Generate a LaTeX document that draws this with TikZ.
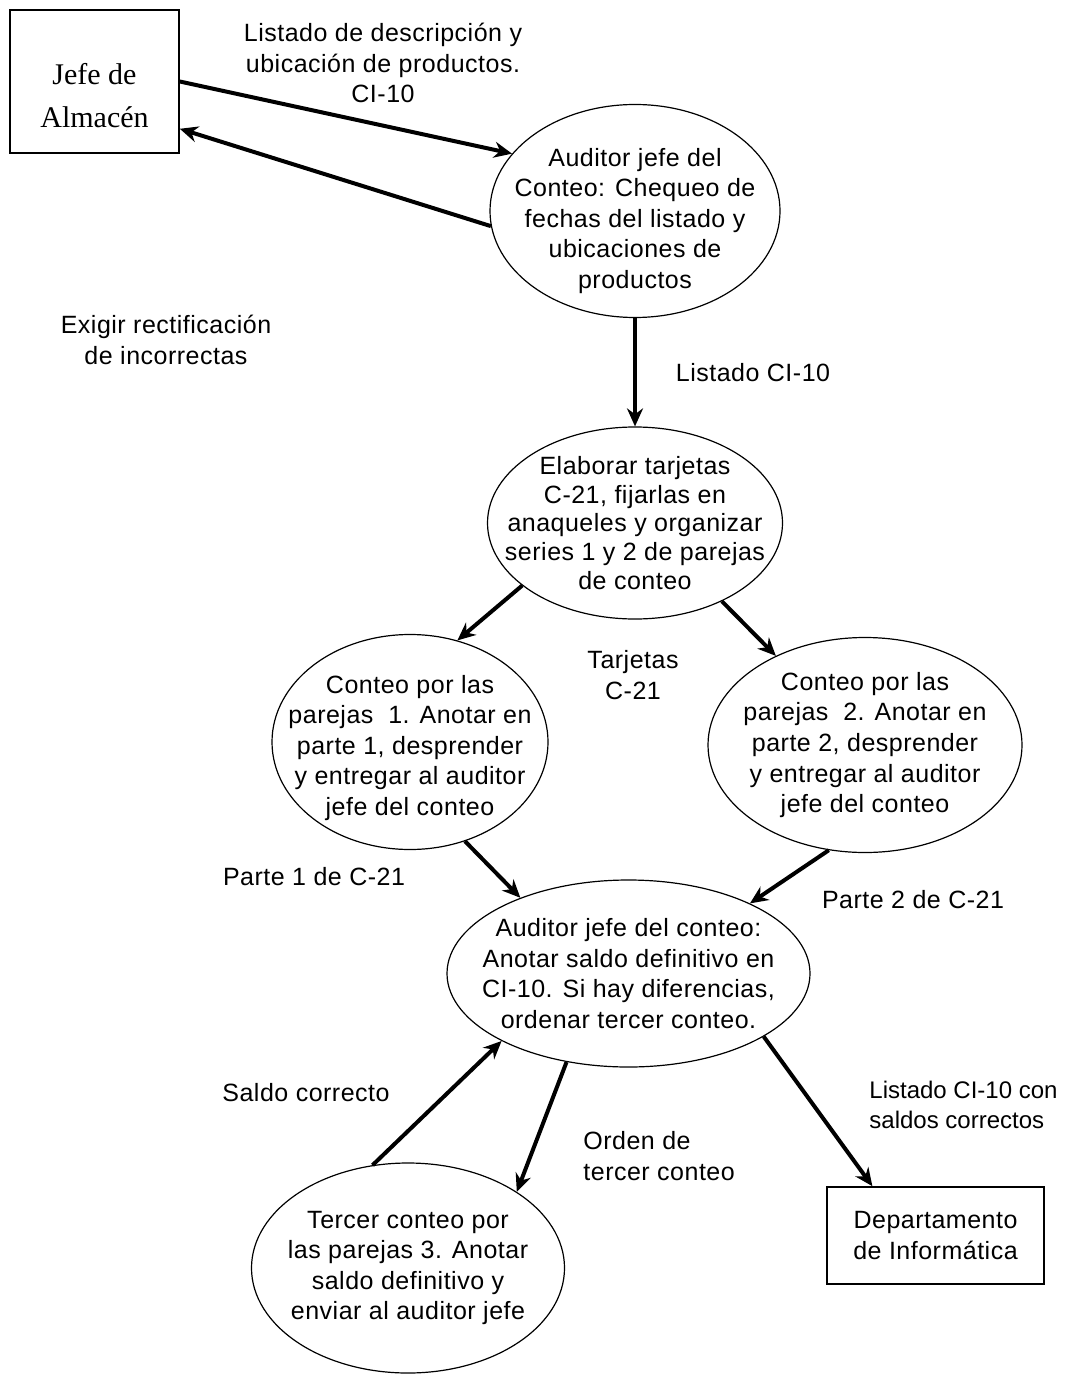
\documentclass[tikz,border=0pt]{standalone}
\usepackage{fontspec}
\setmainfont{Liberation Sans}[LetterSpace=2]
\newfontfamily\serifa{Liberation Serif}
\usetikzlibrary{shapes.geometric, arrows.meta, positioning}

\begin{document}
\begin{tikzpicture}[x=0.5pt, y=-0.5pt,
        caja/.style={rectangle, draw, line width=0.8pt, align=center, inner sep=0pt},
        proceso/.style={ellipse, draw, line width=0.6pt, align=center, inner xsep=-16pt, inner ysep=-2pt},
        etiqueta/.style={align=center, inner sep=0pt},
        flecha/.style={-{Stealth[length=9pt, width=8pt]}, line width=2pt},
        every node/.style={font=\fontsize{12.5}{15.3}\selectfont}]
        \useasboundingbox (0,0) rectangle (1064,1374);
        \node[caja, minimum width=84.5pt, minimum height=71.5pt, text height=46.5pt, font=\serifa\fontsize{15}{21.5}\selectfont] (jefe) at (94.5,81.5) {Jefe de\\Almacén};
        \node[proceso, minimum width=145pt, minimum height=106.5pt, text height=80pt, inner ysep=-6pt] (aud) at (635,211) {Auditor jefe del\\Conteo: Chequeo de\\fechas del listado y\\ubicaciones de\\productos};
        \node[proceso, minimum width=147.5pt, minimum height=96pt, font=\fontsize{12.5}{14.3}\selectfont] (elab) at (635,523) {Elaborar tarjetas\\C-21, fijarlas en\\anaqueles y organizar\\series 1 y 2 de parejas\\de conteo};
        \node[proceso, minimum width=138pt, minimum height=107.5pt, text height=76pt] (par1) at (410,742) {Conteo por las\\parejas~~1. Anotar en\\parte 1, desprender\\y entregar al auditor\\jefe del conteo};
        \node[proceso, minimum width=157pt, minimum height=107.5pt] (par2) at (865,745) {Conteo por las\\parejas~~2. Anotar en\\parte 2, desprender\\y entregar al auditor\\jefe del conteo};
        \node[proceso, minimum width=181.5pt, minimum height=93.5pt] (saldo) at (628.5,973.5) {Auditor jefe del conteo:\\Anotar saldo definitivo en\\CI-10. Si hay diferencias,\\ordenar tercer conteo.};
        \node[proceso, minimum width=156.5pt, minimum height=105pt] (par3) at (408,1268) {Tercer conteo por\\las parejas 3. Anotar\\saldo definitivo y\\enviar al auditor jefe};
        \node[caja, minimum width=108.5pt, minimum height=48.5pt] (dept) at (935.5,1235.5) {Departamento\\de Informática};
        \draw[flecha] (jefe.east) -- (aud.155);
        \draw[flecha] (aud.186) -- (jefe.-29);
        \draw[flecha] (aud.south) -- (elab.north);
        \draw[flecha] (elab.209) -- (par1.65);
        \draw[flecha] (elab.-42) -- (par2.135);
        \draw[flecha] (par1.-61) -- (saldo.145);
        \draw[flecha] (par2.-109) -- (saldo.30);
        \draw[flecha] (par3.109) -- (saldo.208);
        \draw[flecha] (saldo.235) -- (par3.35);
        \draw[flecha] (saldo.-25) -- (dept.142.6);
        \node[etiqueta] (lst) at (383,63) {Listado de descripción y\\ubicación de productos.\\CI-10};
        \node[etiqueta] (exig) at (166,340) {Exigir rectificación\\de incorrectas};
        \node[etiqueta] (lci) at (753,373) {Listado CI-10};
        \node[etiqueta] (tarj) at (633,675) {Tarjetas\\C-21};
        \node[etiqueta] (p1) at (314,877) {Parte 1 de C-21};
        \node[etiqueta] (p2) at (913,900) {Parte 2 de C-21};
        \node[etiqueta] (corr) at (306,1093) {Saldo correcto};
        \node[etiqueta, anchor=west, align=left] (orden) at (583,1156) {Orden de\\tercer conteo};
        \node[etiqueta, anchor=west, align=left, font=\addfontfeature{LetterSpace=0}\fontsize{12}{15}\selectfont] (lcon) at (869,1105) {Listado CI-10 con\\saldos correctos};
    \end{tikzpicture}
\end{document}
